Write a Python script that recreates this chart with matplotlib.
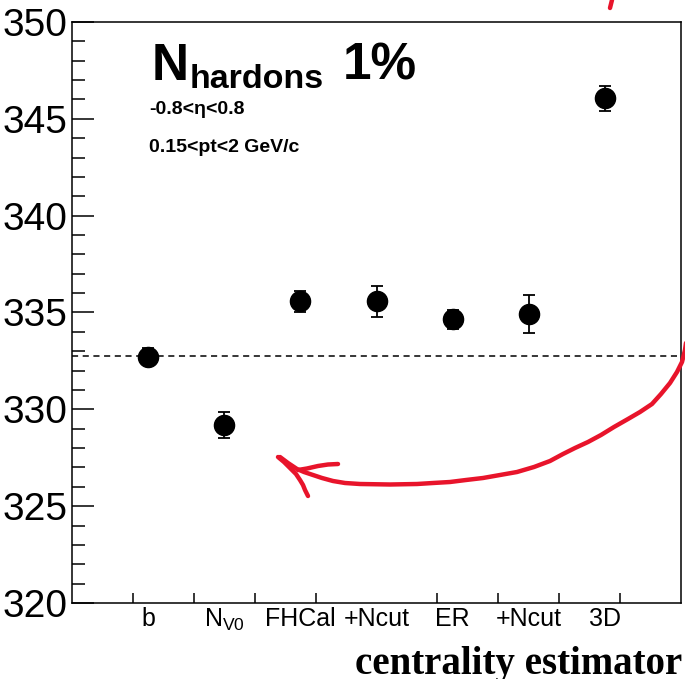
"""N_hadrons per centrality estimator (ROOT-style plot with hand-drawn arrow)."""

import matplotlib
matplotlib.use("Agg")
import matplotlib.pyplot as plt
import numpy as np

plt.rcParams["font.family"] = ["Liberation Sans", "DejaVu Sans"]
plt.rcParams["mathtext.fontset"] = "custom"
plt.rcParams["mathtext.rm"] = "Liberation Sans"
plt.rcParams["mathtext.it"] = "Liberation Sans"
plt.rcParams["mathtext.bf"] = "Liberation Sans:bold"

# data
estimators = ["b", r"N$_{\rm V0}$", "FHCal", "+Ncut", "ER", "+Ncut", "3D"]
n_hadrons = [332.72, 329.18, 335.58, 335.58, 334.65, 334.93, 346.06]
n_errors = [0.45, 0.67, 0.55, 0.80, 0.50, 0.99, 0.63]
reference = 332.73

# hand-drawn red annotation, figure pixel coords (origin top-left)
RED = "#E8142B"
arrow_body = [(686, 343), (685, 350), (682, 362), (677, 372), (670, 383),
              (661, 394), (652, 404), (640, 412), (628, 419), (614, 427),
              (601, 435), (588, 442), (575, 448), (563, 454), (550, 461),
              (534, 467), (517, 472), (500, 475), (483, 478), (466, 480),
              (450, 482), (433, 483), (417, 484), (390, 484.5), (360, 484),
              (345, 483), (333, 481), (322, 478), (313, 475), (304, 472),
              (297, 469), (288, 463), (280, 457)]
arrow_barb1 = [(298, 470), (307, 468.5), (318, 466), (328, 464.5), (338, 464)]
arrow_barb2 = [(278, 457), (284, 462), (290, 468), (296, 474), (300, 480),
               (303, 485), (305, 490), (308, 496)]
top_stroke = [(612, 0), (611, 4), (610, 8)]

W, H = 685, 679


def main():
    fig = plt.figure(figsize=(W / 100, H / 100), dpi=100)
    ax = fig.add_axes([72 / W, 1 - 603 / H, 609 / W, 581 / H])

    x = np.arange(1, len(estimators) + 1)
    ax.errorbar(x, n_hadrons, yerr=n_errors, fmt="o", color="black",
                ms=14.5, elinewidth=1.3, capsize=4, capthick=1.3, zorder=3)
    ax.axhline(reference, color="black", linewidth=1.1, linestyle=(0, (4, 3)))

    ax.set_xlim(0, 8)
    ax.set_ylim(320, 350)

    ax.set_yticks(np.arange(320, 351, 5))
    ax.set_yticks(np.arange(320, 351, 1), minor=True)
    ax.tick_params(axis="y", which="major", direction="in", length=16,
                   width=1.1, labelsize=28, pad=3)
    ax.tick_params(axis="y", which="minor", direction="in", length=9, width=1.1)

    ax.set_xticks(x)
    ax.set_xticklabels(estimators)
    ax.set_xticks(np.arange(0.8, 7.3, 0.8), minor=True)
    ax.tick_params(axis="x", which="major", length=0, labelsize=18, pad=3)
    ax.tick_params(axis="x", which="minor", direction="in", length=7, width=1.1)

    for s in ax.spines.values():
        s.set_linewidth(1.1)

    # labels in the ROOT style
    fig.text(152 / W, 1 - 80 / H, "N", fontsize=37, fontweight="bold",
             va="baseline", ha="left")
    fig.text(190 / W, 1 - 88 / H, "hardons", fontsize=24.5, fontweight="bold",
             va="baseline", ha="left")
    fig.text(343 / W, 1 - 80 / H, "1%", fontsize=37, fontweight="bold",
             va="baseline", ha="left")
    fig.text(149 / W, 1 - 110 / H, "-0.8<\u03b7<0.8", fontsize=14,
             fontweight="bold", va="center", ha="left")
    fig.text(149 / W, 1 - 147 / H, "0.15<pt<2 GeV/c", fontsize=14,
             fontweight="bold", va="center", ha="left")
    fig.text(682 / W, 5 / H, "centrality estimator", fontsize=28,
             fontweight="bold", family="Liberation Serif",
             va="baseline", ha="right")

    # red annotation
    for path in (arrow_body, arrow_barb1, arrow_barb2, top_stroke):
        px = [p[0] / W for p in path]
        py = [1 - p[1] / H for p in path]
        fig.add_artist(plt.Line2D(px, py, transform=fig.transFigure,
                                  color=RED, linewidth=3.2,
                                  solid_capstyle="round",
                                  solid_joinstyle="round"))

    fig.savefig("out.png", dpi=100, facecolor="white")
    plt.close(fig)


if __name__ == "__main__":
    main()
